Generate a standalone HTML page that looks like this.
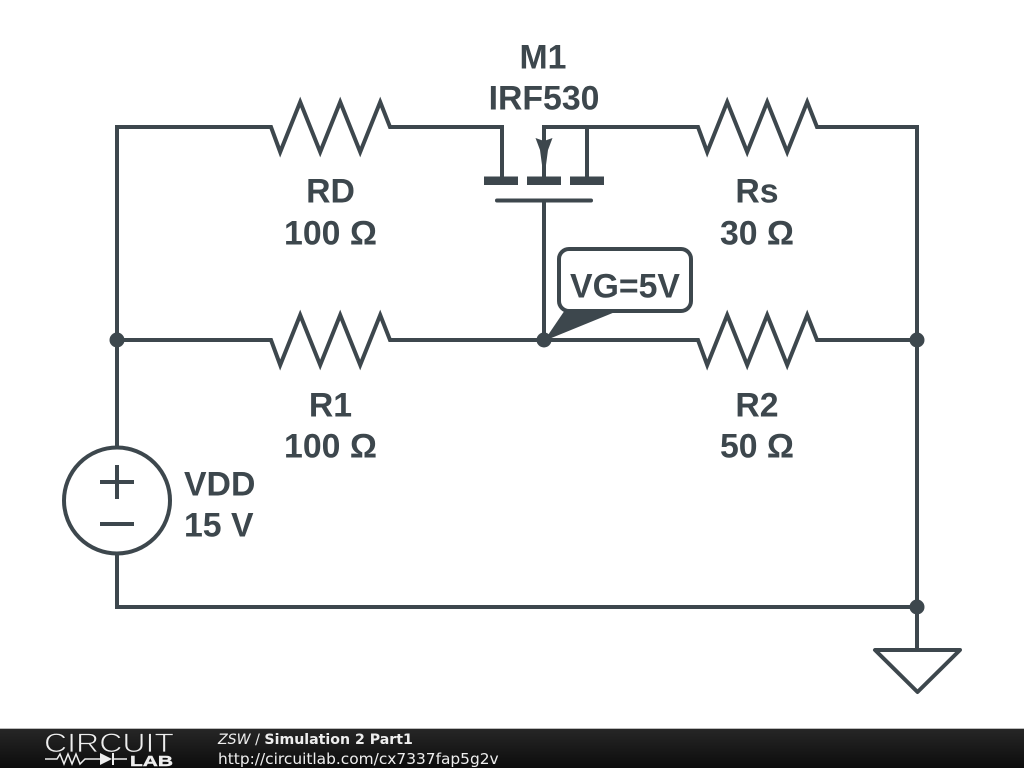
<!DOCTYPE html>
<html>
<head>
<meta charset="utf-8">
<style>
html,body{margin:0;padding:0;background:#fff;width:1024px;height:768px;overflow:hidden}
svg{display:block}
</style>
</head>
<body>
<svg width="1024" height="768" viewBox="0 0 1024 768" xmlns="http://www.w3.org/2000/svg">
<defs>
<linearGradient id="bar" x1="0" y1="0" x2="0" y2="1">
<stop offset="0" stop-color="#262626"/>
<stop offset="1" stop-color="#0c0c0c"/>
</linearGradient>
</defs>
<rect width="1024" height="768" fill="#fff"/>
<g fill="none" stroke="#3d474d" stroke-width="4" stroke-linejoin="miter" stroke-linecap="butt">
<path d="M502 180V127H390L380.200 102L360.200 152L340.200 102L320.200 152L300.200 102L280.200 152L271 127H117V446"/>
<path d="M544 150V127H698L707.200 152L727.200 102L747.200 152L767.200 102L787.200 152L807.200 102L817 127H917V650"/>
<path d="M587 127V180"/>
<path d="M544 200V340"/>
<path d="M117 340H271L280.200 365L300.200 315L320.200 365L340.200 315L360.200 365L380.200 315L390 340H544"/>
<path d="M544 340H698L707.200 365L727.200 315L747.200 365L767.200 315L787.200 365L807.200 315L817 340H917"/>
<path d="M117 555V607H917"/>
<circle cx="117" cy="500.500" r="53"/>
<path d="M100 482H134M117 465V499M100 524H134"/>
<path d="M875 650H960L917.500 692Z" stroke-linejoin="round"/>
<path d="M497 200.500H591" stroke-linecap="round"/>
<rect x="559" y="249" width="132" height="62" rx="10" fill="#fff"/>
</g>
<g fill="#3d474d">
<rect x="484" y="176.500" width="34" height="8.500"/>
<rect x="527" y="176.500" width="34" height="8.500"/>
<rect x="570" y="176.500" width="34" height="8.500"/>
<rect x="542" y="150" width="4" height="28"/>
<path d="M535.500 138L544 141L552.500 138L548 150L546 165H542L540 150Z"/>
<path d="M565 310H620L544 341Z"/>
<circle cx="117" cy="340" r="7.500"/>
<circle cx="544" cy="340" r="7.500"/>
<circle cx="917" cy="340" r="7.500"/>
<circle cx="917" cy="607" r="7.500"/>
</g>
<g font-family="'Liberation Sans', sans-serif" font-weight="700" font-size="33.800" fill="#3d474d" text-anchor="middle">
<text x="543" y="68.500">M1</text>
<text x="544" y="109.500">IRF530</text>
<text x="330.500" y="202.500">RD</text>
<text x="330.500" y="244.500">100 Ω</text>
<text x="757" y="202.500">Rs</text>
<text x="757" y="244.500">30 Ω</text>
<text x="330.500" y="416.500">R1</text>
<text x="330.500" y="457.500">100 Ω</text>
<text x="757" y="416.500">R2</text>
<text x="757" y="457.500">50 Ω</text>
<text x="184" y="495.500" text-anchor="start">VDD</text>
<text x="184" y="536.500" text-anchor="start">15 V</text>
<text x="625" y="297.500">VG=5V</text>
</g>
<rect x="0" y="729" width="1024" height="39" fill="url(#bar)"/>
<rect x="0" y="728" width="1024" height="1" fill="#bbb"/>
<text x="44" y="752" font-family="'Liberation Sans', sans-serif" font-size="26.500" fill="#eee" stroke="#1c1c1c" stroke-width="0.800" textLength="130" lengthAdjust="spacingAndGlyphs">CIRCUIT</text>
<g fill="none" stroke="#eee" stroke-width="1.500">
<path d="M45 759H57L60 754L64 764L68 754L72 764L76 754L80 764L85 759H100M113 759H127"/>
<path d="M113 753V765" stroke-width="2"/>
</g>
<path d="M100 753L112 759L100 765Z" fill="#eee"/>
<text x="130" y="766" font-family="'Liberation Sans', sans-serif" font-weight="700" font-size="15" fill="#eee" stroke="#eee" stroke-width="0.400" textLength="43" lengthAdjust="spacingAndGlyphs">LAB</text>
<text x="218" y="744" font-family="'DejaVu Sans', sans-serif" font-size="14.150" fill="#eee"><tspan font-style="italic">ZSW</tspan> / <tspan font-weight="700">Simulation 2 Part1</tspan></text>
<text x="218" y="764" font-family="'DejaVu Sans', sans-serif" font-size="15.400" fill="#eee">http://circuitlab.com/cx7337fap5g2v</text>
</svg>
</body>
</html>
